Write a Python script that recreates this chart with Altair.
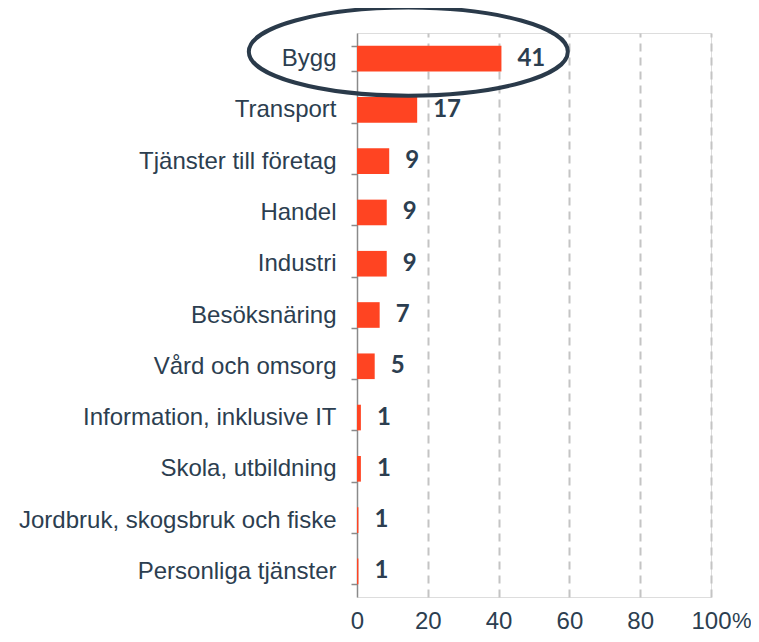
import altair as alt
import pandas as pd

categories = [
    "Bygg", "Transport", "Tjänster till företag", "Handel", "Industri",
    "Besöksnäring", "Vård och omsorg", "Information, inklusive IT",
    "Skola, utbildning", "Jordbruk, skogsbruk och fiske", "Personliga tjänster",
]
values = [40.8, 17.0, 9.1, 8.4, 8.4, 6.4, 5.0, 1.1, 1.1, 0.4, 0.4]
labels = ["41", "17", "9", "9", "9", "7", "5", "1", "1", "1", "1"]
x_ticks = [0, 20, 40, 60, 80, 100]

df = pd.DataFrame({"cat": categories, "val": values, "lab": labels})

TEXT = "#2c3e50"
BAR = "#ff4422"
W, H = 354, 564

y_enc = alt.Y(
    "cat:N", sort=categories, title=None,
    scale=alt.Scale(paddingInner=0.5, paddingOuter=0.25),
    axis=alt.Axis(
        labelFont="Liberation Sans", labelFontSize=24, labelColor=TEXT,
        labelPadding=15, tickSize=6, tickColor="#8a8a8a", tickWidth=1.5,
        domainColor="#8a8a8a", domainWidth=1.5, tickBand="extent",
        grid=False, labelLimit=400,
    ),
)
x_enc = alt.X(
    "val:Q", title=None,
    scale=alt.Scale(domain=[0, 100], nice=False),
    axis=alt.Axis(
        values=x_ticks, labelFont="Liberation Sans", labelFontSize=24,
        labelColor=TEXT, ticks=False, tickSize=0, domain=False, labelPadding=12,
        labelFlush=False,
        grid=True,
        gridColor=alt.condition("datum.value == 0", alt.value("transparent"), alt.value("#c4c4c4")),
        gridDash=[8, 6], gridWidth=2,
    ),
)

bars = alt.Chart(df).mark_bar(color=BAR).encode(x=x_enc, y=y_enc)

text = alt.Chart(df).mark_text(
    align="left", baseline="middle", dx=16, font="Lato", fontWeight="bold",
    fontSize=24, color=TEXT,
).encode(x="val:Q", y=alt.Y("cat:N", sort=categories), text="lab:N")

pct = alt.Chart(pd.DataFrame({"v": [100], "t": ["%"]})).mark_text(
    align="left", baseline="top", dx=21, dy=14, font="Liberation Sans",
    fontSize=22, color=TEXT,
).encode(x=alt.X("v:Q"), y=alt.value(H), text="t:N")

ellipse_path = "M-1,0A1,0.276,0,1,1,1,0A1,0.276,0,1,1,-1,0Z"
ell = alt.Chart(pd.DataFrame({"cat": ["Bygg"], "v": [14.5]})).mark_point(
    shape=ellipse_path, size=319 * 319, filled=False, stroke="#2a3a4a",
    strokeWidth=4, opacity=1, yOffset=-7,
).encode(x="v:Q", y=alt.Y("cat:N", sort=categories))

chart = alt.layer(bars, text, pct, ell).properties(
    width=W, height=H,
    autosize=alt.AutoSizeParams(type="none"),
    padding={"left": 349, "top": 25, "right": 40, "bottom": 37},
).configure_view(stroke=None).configure(background="white")

chart.save("out.html", embed_options={"renderer": "svg", "actions": False})
